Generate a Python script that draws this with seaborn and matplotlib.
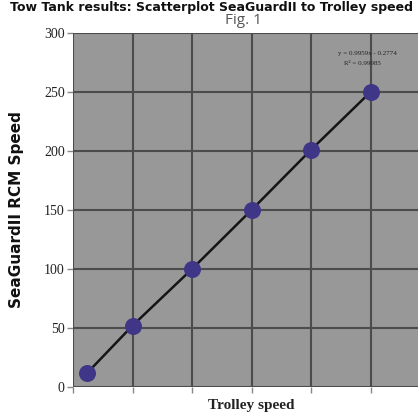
import matplotlib
matplotlib.use("Agg")
import matplotlib.pyplot as plt
import seaborn as sns
import pandas as pd

trolley_speed = [12, 50, 100, 150, 200, 250]
rcm_speed = [12, 52, 100, 150, 201, 250]
y_ticks = [0, 50, 100, 150, 200, 250, 300]
x_ticks = [0, 50, 100, 150, 200, 250, 300]
eq_text = "y = 0.9959x - 0.2774"
r2_text = "R² = 0.99985"

df = pd.DataFrame({"x": trolley_speed, "y": rcm_speed})

sns.set_theme(style="white")
fig = plt.figure(figsize=(4.18, 4.12), dpi=100)
ax = fig.add_axes([73/418, 25/412, 357/418, 354/412])
ax.set_facecolor("#989898")

for v in y_ticks:
    ax.axhline(v, color="#4c4c4c", lw=1.5, zorder=1)
for v in x_ticks:
    ax.axvline(v, color="#4c4c4c", lw=1.5, zorder=1)

sns.lineplot(data=df, x="x", y="y", ax=ax, color="#151515", lw=1.8, zorder=3)
sns.scatterplot(data=df, x="x", y="y", ax=ax, color="#3f3688", s=150,
                edgecolor="#3f3688", linewidth=0, zorder=4)

ax.set_xlim(0, 300)
ax.set_ylim(0, 300)
ax.set_yticks(y_ticks)
ax.set_yticklabels([str(v) for v in y_ticks], family="Liberation Serif",
                   fontsize=10, color="#222222")
ax.set_xticks(x_ticks)
ax.set_xticklabels([])
ax.tick_params(axis="both", direction="out", length=4, width=1, color="#888888",
               left=True, bottom=True, pad=2)
for s in ax.spines.values():
    s.set_visible(False)

ax.set_xlabel("Trolley speed", family="Liberation Serif", fontweight="bold",
              fontsize=11, color="#222222", labelpad=3)
ax.set_ylabel("SeaGuardII RCM Speed", family="DejaVu Sans",
              fontweight="bold", fontsize=11, color="#111111", labelpad=14)

ax.text(223, 283, eq_text, family="Liberation Serif", fontsize=5, ha="left",
        va="center", color="#222222")
ax.text(228, 274, r2_text, family="Liberation Serif", fontsize=5, ha="left",
        va="center", color="#222222")

fig.text(211/418, 1 - 7/412, "Tow Tank results: Scatterplot SeaGuardII to Trolley speed",
         family="DejaVu Sans", fontweight="bold",
         fontsize=9, ha="center", va="center", color="#111111")
fig.text(243/418, 1 - 21/412, "Fig. 1", family="Open Sans", fontsize=11,
         ha="center", va="center", color="#555555")

fig.savefig("out.png", dpi=100)
